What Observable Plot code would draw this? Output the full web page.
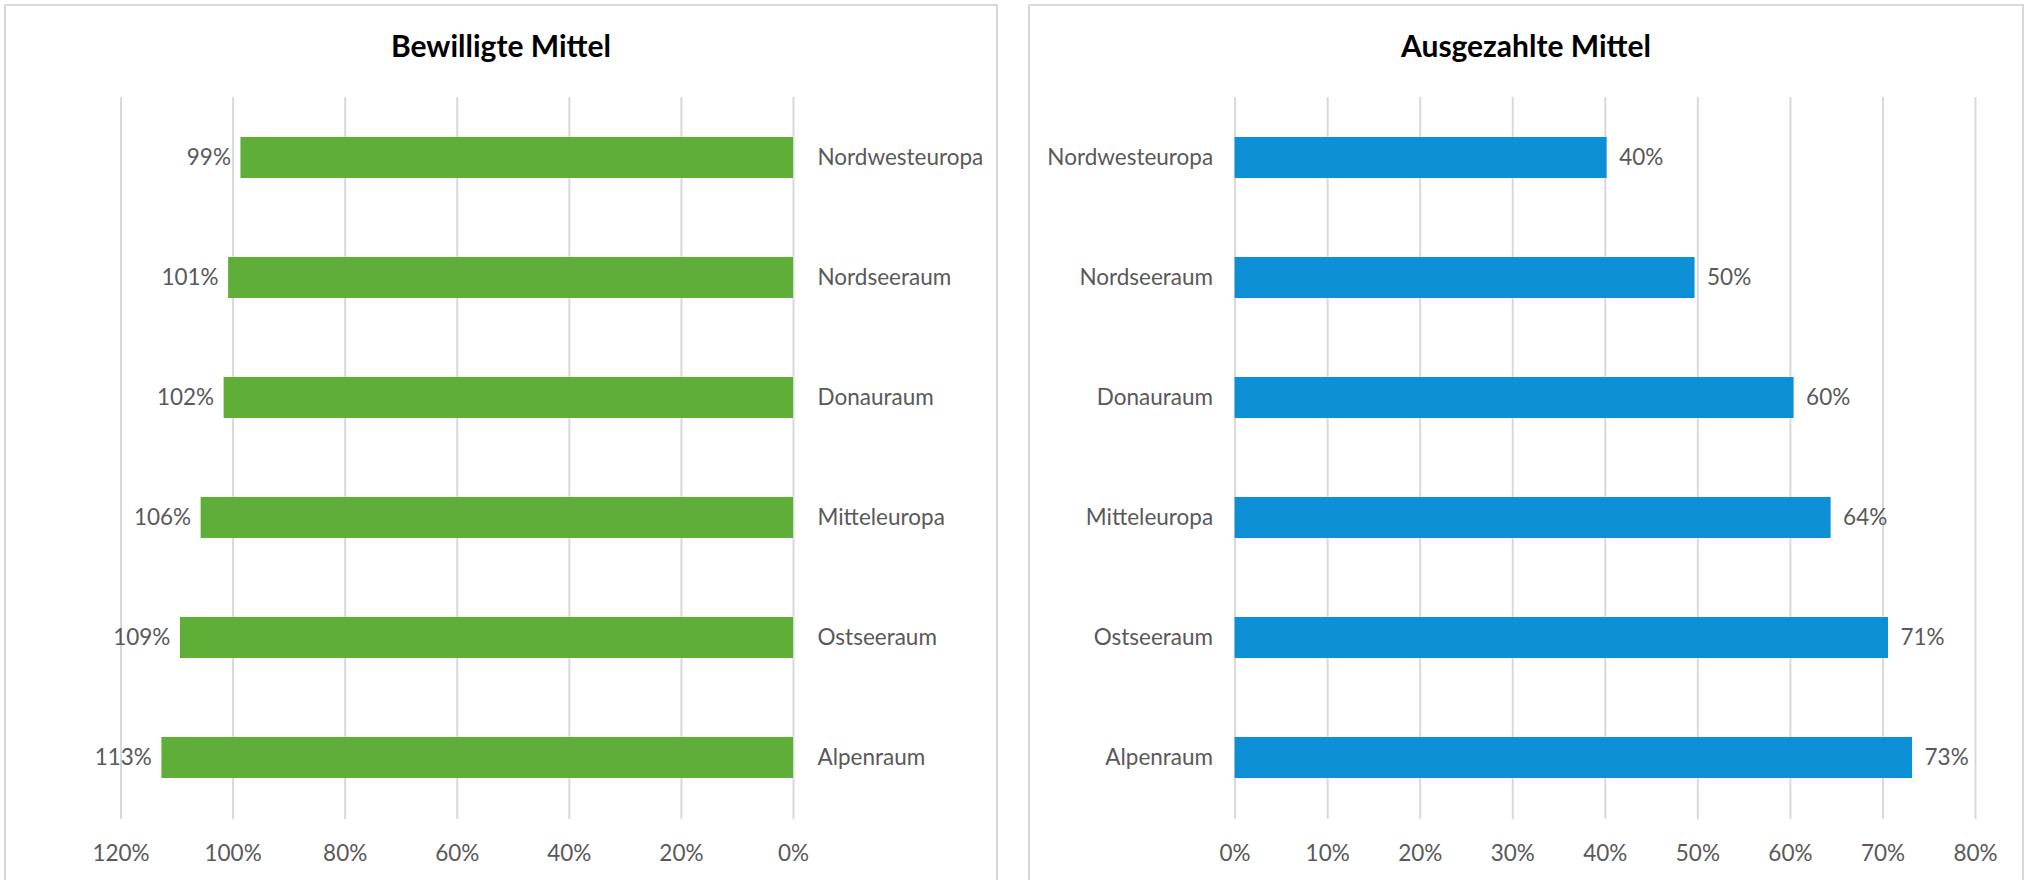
<!DOCTYPE html>
<html><head><meta charset="utf-8">
<script src="https://cdn.jsdelivr.net/npm/d3@7"></script>
<script src="https://cdn.jsdelivr.net/npm/@observablehq/plot@0.6"></script>
<style>
body{margin:0;width:2030px;height:880px;background:#fff;position:relative;overflow:hidden;font-family:Lato,"Open Sans",sans-serif;}
.panel{position:absolute;top:4px;height:900px;border:2px solid #d9d9d9;box-sizing:border-box;}
.title{position:absolute;top:27px;line-height:36px;font-weight:bold;font-size:30px;color:#000;text-align:center;}
.chart{position:absolute;top:0;}
</style></head><body>
<div class="panel" style="left:4px;width:994px"></div>
<div class="panel" style="left:1028px;width:996px"></div>
<div class="title" style="left:4px;width:994px">Bewilligte Mittel</div>
<div class="title" style="left:1028px;width:996px">Ausgezahlte Mittel</div>
<div class="chart" id="left" style="left:0px"></div>
<div class="chart" id="right" style="left:1020px"></div>
<script>
const regions = ["Nordwesteuropa","Nordseeraum","Donauraum","Mitteleuropa","Ostseeraum","Alpenraum"];
const bewilligt = [98.6,100.8,101.6,105.7,109.4,112.7];
const ausgezahlt = [40.2,49.7,60.4,64.4,70.6,73.2];
const leftTicks = [0,20,40,60,80,100,120];
const rightTicks = [0,10,20,30,40,50,60,70,80];

const leftData = regions.map((r,i)=>({region:r, value:bewilligt[i]}));
const rightData = regions.map((r,i)=>({region:r, value:ausgezahlt[i]}));
const pct = d => d + "%";
const txt = "#595959";
const fs = 22.5;
const font = 'Lato, "Open Sans", sans-serif';

const left = Plot.plot({
  width:1010, height:880,
  marginLeft:120.5, marginRight:217, marginTop:97, marginBottom:61,
  style:{background:"transparent", fontFamily:font, fontSize:fs+"px", color:txt},
  x:{domain:[0,120], reverse:true, ticks:leftTicks, tickFormat:pct},
  y:{domain:regions, paddingInner:0.655, paddingOuter:0.3275},
  marks:[
    Plot.gridX(leftTicks,{stroke:"#d9d9d9", strokeOpacity:1, strokeWidth:2}),
    Plot.barX(leftData,{x1:0, x2:"value", y:"region", fill:"#5fae37"}),
    Plot.text(leftData,{x:"value", y:"region", text:d=>Math.round(d.value)+"%", dx:-10, textAnchor:"end", fill:txt, fontSize:fs}),
    Plot.axisX({ticks:leftTicks, tickFormat:pct, tickSize:0, tickPadding:26, fill:txt, fontSize:fs, label:null}),
    Plot.axisY({anchor:"right", tickSize:0, tickPadding:24, fill:txt, fontSize:fs, label:null})
  ]
});
document.getElementById("left").append(left);

const right = Plot.plot({
  width:1010, height:880,
  marginLeft:214.6, marginRight:55, marginTop:97, marginBottom:61,
  style:{background:"transparent", fontFamily:font, fontSize:fs+"px", color:txt},
  x:{domain:[0,80], ticks:rightTicks, tickFormat:pct},
  y:{domain:regions, paddingInner:0.655, paddingOuter:0.3275},
  marks:[
    Plot.gridX(rightTicks,{stroke:"#d9d9d9", strokeOpacity:1, strokeWidth:2}),
    Plot.barX(rightData,{x1:0, x2:"value", y:"region", fill:"#0e90d6"}),
    Plot.text(rightData,{x:"value", y:"region", text:d=>Math.round(d.value)+"%", dx:12, textAnchor:"start", fill:txt, fontSize:fs}),
    Plot.axisX({ticks:rightTicks, tickFormat:pct, tickSize:0, tickPadding:26, fill:txt, fontSize:fs, label:null}),
    Plot.axisY({anchor:"left", tickSize:0, tickPadding:22, fill:txt, fontSize:fs, label:null})
  ]
});
document.getElementById("right").append(right);
</script>
</body></html>
